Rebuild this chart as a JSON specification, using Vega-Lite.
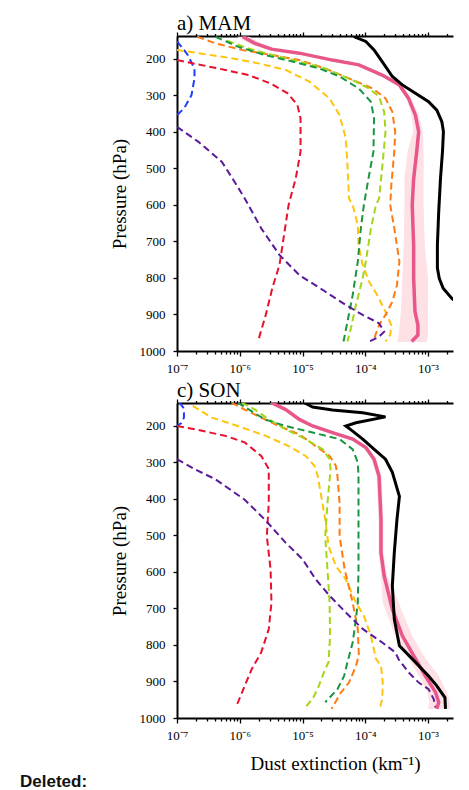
{
  "$schema": "https://vega.github.io/schema/vega-lite/v6.json",
  "background": "white",
  "padding": {"left": 20, "top": 13, "right": 5, "bottom": 0},
  "autosize": {"type": "pad"},
  "config": {
    "font": "Liberation Serif",
    "view": {"stroke": null},
    "axis": {
      "domainColor": "black", "domainWidth": 2, "tickColor": "black", "tickWidth": 1.3,
      "labelColor": "black", "labelFontSize": 13, "labelFont": "Liberation Serif", "grid": false,
      "labelFlush": false, "labelOverlap": false, "titleFont": "Liberation Serif", "titleFontSize": 19,
      "titleFontWeight": "normal", "titleColor": "black"
    },
    "title": {"font": "Liberation Serif", "fontSize": 21, "fontWeight": "normal", "color": "black"}
  },
  "title": {"text": "Deleted:", "orient": "bottom", "anchor": "start", "frame": "bounds", "font": "Liberation Sans", "fontWeight": "bold", "fontSize": 17, "color": "#111111", "dx": -90, "offset": 1},
  "spacing": 5,
  "datasets": {
    "lines": [
      {"s":"MAM","k":"obs","p":139,"v":6.6e-5},{"s":"MAM","k":"obs","p":152,"v":1.02e-4},{"s":"MAM","k":"obs","p":175,"v":1.38e-4},{"s":"MAM","k":"obs","p":207,"v":1.86e-4},{"s":"MAM","k":"obs","p":248,"v":2.7e-4},{"s":"MAM","k":"obs","p":271,"v":3.9e-4},{"s":"MAM","k":"obs","p":294,"v":6.3e-4},{"s":"MAM","k":"obs","p":317,"v":1.02e-3},{"s":"MAM","k":"obs","p":340,"v":1.38e-3},{"s":"MAM","k":"obs","p":372,"v":1.66e-3},{"s":"MAM","k":"obs","p":399,"v":1.76e-3},{"s":"MAM","k":"obs","p":454,"v":1.7e-3},{"s":"MAM","k":"obs","p":527,"v":1.58e-3},{"s":"MAM","k":"obs","p":618,"v":1.48e-3},{"s":"MAM","k":"obs","p":710,"v":1.41e-3},{"s":"MAM","k":"obs","p":773,"v":1.41e-3},{"s":"MAM","k":"obs","p":801,"v":1.51e-3},{"s":"MAM","k":"obs","p":828,"v":1.74e-3},{"s":"MAM","k":"obs","p":856,"v":2.4e-3},{"s":"MAM","k":"obs","p":880,"v":3.5e-3},
      {"s":"MAM","k":"model","p":139,"v":1.12e-6},{"s":"MAM","k":"model","p":157,"v":1.74e-6},{"s":"MAM","k":"model","p":173,"v":3.2e-6},{"s":"MAM","k":"model","p":184,"v":8.9e-6},{"s":"MAM","k":"model","p":203,"v":3.0e-5},{"s":"MAM","k":"model","p":216,"v":7.9e-5},{"s":"MAM","k":"model","p":244,"v":1.86e-4},{"s":"MAM","k":"model","p":271,"v":3.5e-4},{"s":"MAM","k":"model","p":308,"v":4.9e-4},{"s":"MAM","k":"model","p":354,"v":6.3e-4},{"s":"MAM","k":"model","p":399,"v":7.1e-4},{"s":"MAM","k":"model","p":454,"v":6.6e-4},{"s":"MAM","k":"model","p":528,"v":5.9e-4},{"s":"MAM","k":"model","p":600,"v":5.6e-4},{"s":"MAM","k":"model","p":710,"v":5.9e-4},{"s":"MAM","k":"model","p":801,"v":5.9e-4},{"s":"MAM","k":"model","p":892,"v":6.2e-4},{"s":"MAM","k":"model","p":929,"v":6.9e-4},{"s":"MAM","k":"model","p":956,"v":6.9e-4},{"s":"MAM","k":"model","p":974,"v":5.5e-4},
      {"s":"MAM","k":"blue","p":152,"v":1.0e-7},{"s":"MAM","k":"blue","p":170,"v":1.23e-7},{"s":"MAM","k":"blue","p":189,"v":1.48e-7},{"s":"MAM","k":"blue","p":226,"v":1.9e-7},{"s":"MAM","k":"blue","p":253,"v":1.9e-7},{"s":"MAM","k":"blue","p":299,"v":1.7e-7},{"s":"MAM","k":"blue","p":335,"v":1.3e-7},{"s":"MAM","k":"blue","p":354,"v":1.0e-7},
      {"s":"MAM","k":"red","p":203,"v":1.0e-7},{"s":"MAM","k":"red","p":215,"v":2.2e-7},{"s":"MAM","k":"red","p":230,"v":5.9e-7},{"s":"MAM","k":"red","p":244,"v":1.38e-6},{"s":"MAM","k":"red","p":267,"v":3.1e-6},{"s":"MAM","k":"red","p":294,"v":5.8e-6},{"s":"MAM","k":"red","p":326,"v":8.3e-6},{"s":"MAM","k":"red","p":363,"v":9.3e-6},{"s":"MAM","k":"red","p":454,"v":9.3e-6},{"s":"MAM","k":"red","p":527,"v":7.8e-6},{"s":"MAM","k":"red","p":600,"v":6.0e-6},{"s":"MAM","k":"red","p":710,"v":4.8e-6},{"s":"MAM","k":"red","p":764,"v":4.3e-6},{"s":"MAM","k":"red","p":828,"v":3.3e-6},{"s":"MAM","k":"red","p":901,"v":2.6e-6},{"s":"MAM","k":"red","p":974,"v":1.95e-6},
      {"s":"MAM","k":"yellow","p":175,"v":1.0e-7},{"s":"MAM","k":"yellow","p":184,"v":2.2e-7},{"s":"MAM","k":"yellow","p":198,"v":7.4e-7},{"s":"MAM","k":"yellow","p":212,"v":2.0e-6},{"s":"MAM","k":"yellow","p":230,"v":5.4e-6},{"s":"MAM","k":"yellow","p":262,"v":1.29e-5},{"s":"MAM","k":"yellow","p":308,"v":2.7e-5},{"s":"MAM","k":"yellow","p":354,"v":3.9e-5},{"s":"MAM","k":"yellow","p":418,"v":4.9e-5},{"s":"MAM","k":"yellow","p":491,"v":5.2e-5},{"s":"MAM","k":"yellow","p":582,"v":5.5e-5},{"s":"MAM","k":"yellow","p":600,"v":6.3e-5},{"s":"MAM","k":"yellow","p":655,"v":7.6e-5},{"s":"MAM","k":"yellow","p":710,"v":7.8e-5},{"s":"MAM","k":"yellow","p":764,"v":9.1e-5},{"s":"MAM","k":"yellow","p":810,"v":1.15e-4},{"s":"MAM","k":"yellow","p":847,"v":1.55e-4},{"s":"MAM","k":"yellow","p":892,"v":2.1e-4},{"s":"MAM","k":"yellow","p":929,"v":2.6e-4},{"s":"MAM","k":"yellow","p":956,"v":2.5e-4},{"s":"MAM","k":"yellow","p":974,"v":2.1e-4},
      {"s":"MAM","k":"orange","p":139,"v":2.1e-7},{"s":"MAM","k":"orange","p":157,"v":4.1e-7},{"s":"MAM","k":"orange","p":175,"v":1.07e-6},{"s":"MAM","k":"orange","p":189,"v":3.2e-6},{"s":"MAM","k":"orange","p":203,"v":8.9e-6},{"s":"MAM","k":"orange","p":226,"v":2.3e-5},{"s":"MAM","k":"orange","p":253,"v":5.5e-5},{"s":"MAM","k":"orange","p":281,"v":1.32e-4},{"s":"MAM","k":"orange","p":308,"v":2.1e-4},{"s":"MAM","k":"orange","p":345,"v":2.7e-4},{"s":"MAM","k":"orange","p":399,"v":3.0e-4},{"s":"MAM","k":"orange","p":454,"v":2.9e-4},{"s":"MAM","k":"orange","p":546,"v":2.6e-4},{"s":"MAM","k":"orange","p":600,"v":2.5e-4},{"s":"MAM","k":"orange","p":664,"v":2.9e-4},{"s":"MAM","k":"orange","p":755,"v":3.5e-4},{"s":"MAM","k":"orange","p":819,"v":3.2e-4},{"s":"MAM","k":"orange","p":865,"v":2.7e-4},{"s":"MAM","k":"orange","p":901,"v":2.1e-4},{"s":"MAM","k":"orange","p":929,"v":1.66e-4},{"s":"MAM","k":"orange","p":956,"v":1.45e-4},{"s":"MAM","k":"orange","p":974,"v":1.38e-4},
      {"s":"MAM","k":"lgreen","p":150,"v":6.3e-7},{"s":"MAM","k":"lgreen","p":172,"v":1.41e-6},{"s":"MAM","k":"lgreen","p":190,"v":3.5e-6},{"s":"MAM","k":"lgreen","p":207,"v":8.9e-6},{"s":"MAM","k":"lgreen","p":226,"v":2.3e-5},{"s":"MAM","k":"lgreen","p":258,"v":6.3e-5},{"s":"MAM","k":"lgreen","p":281,"v":1.15e-4},{"s":"MAM","k":"lgreen","p":303,"v":1.66e-4},{"s":"MAM","k":"lgreen","p":345,"v":2.0e-4},{"s":"MAM","k":"lgreen","p":399,"v":2.1e-4},{"s":"MAM","k":"lgreen","p":482,"v":1.9e-4},{"s":"MAM","k":"lgreen","p":582,"v":1.66e-4},{"s":"MAM","k":"lgreen","p":600,"v":1.48e-4},{"s":"MAM","k":"lgreen","p":664,"v":1.23e-4},{"s":"MAM","k":"lgreen","p":755,"v":1.02e-4},{"s":"MAM","k":"lgreen","p":801,"v":9.1e-5},{"s":"MAM","k":"lgreen","p":874,"v":7.1e-5},{"s":"MAM","k":"lgreen","p":938,"v":5.9e-5},{"s":"MAM","k":"lgreen","p":974,"v":5.2e-5},
      {"s":"MAM","k":"dgreen","p":139,"v":4.1e-7},{"s":"MAM","k":"dgreen","p":166,"v":9.3e-7},{"s":"MAM","k":"dgreen","p":189,"v":2.5e-6},{"s":"MAM","k":"dgreen","p":207,"v":6.9e-6},{"s":"MAM","k":"dgreen","p":226,"v":1.86e-5},{"s":"MAM","k":"dgreen","p":248,"v":3.9e-5},{"s":"MAM","k":"dgreen","p":281,"v":7.9e-5},{"s":"MAM","k":"dgreen","p":317,"v":1.23e-4},{"s":"MAM","k":"dgreen","p":363,"v":1.38e-4},{"s":"MAM","k":"dgreen","p":454,"v":1.35e-4},{"s":"MAM","k":"dgreen","p":518,"v":1.15e-4},{"s":"MAM","k":"dgreen","p":600,"v":9.5e-5},{"s":"MAM","k":"dgreen","p":664,"v":8.5e-5},{"s":"MAM","k":"dgreen","p":755,"v":7.6e-5},{"s":"MAM","k":"dgreen","p":847,"v":6.3e-5},{"s":"MAM","k":"dgreen","p":920,"v":5.2e-5},{"s":"MAM","k":"dgreen","p":974,"v":4.5e-5},
      {"s":"MAM","k":"purple","p":386,"v":1.0e-7},{"s":"MAM","k":"purple","p":427,"v":2.2e-7},{"s":"MAM","k":"purple","p":482,"v":5.2e-7},{"s":"MAM","k":"purple","p":537,"v":8.3e-7},{"s":"MAM","k":"purple","p":582,"v":1.2e-6},{"s":"MAM","k":"purple","p":664,"v":2.2e-6},{"s":"MAM","k":"purple","p":737,"v":4.3e-6},{"s":"MAM","k":"purple","p":792,"v":8.9e-6},{"s":"MAM","k":"purple","p":837,"v":2.3e-5},{"s":"MAM","k":"purple","p":874,"v":4.9e-5},{"s":"MAM","k":"purple","p":901,"v":9.1e-5},{"s":"MAM","k":"purple","p":924,"v":1.66e-4},{"s":"MAM","k":"purple","p":947,"v":2.0e-4},{"s":"MAM","k":"purple","p":961,"v":1.66e-4},{"s":"MAM","k":"purple","p":974,"v":1.15e-4},

      {"s":"SON","k":"obs","p":136,"v":1.07e-5},{"s":"SON","k":"obs","p":148,"v":1.45e-5},{"s":"SON","k":"obs","p":156,"v":3.0e-5},{"s":"SON","k":"obs","p":164,"v":9.1e-5},{"s":"SON","k":"obs","p":175,"v":2.1e-4},{"s":"SON","k":"obs","p":191,"v":7.1e-5},{"s":"SON","k":"obs","p":200,"v":4.9e-5},{"s":"SON","k":"obs","p":214,"v":6.3e-5},{"s":"SON","k":"obs","p":236,"v":9.1e-5},{"s":"SON","k":"obs","p":268,"v":1.48e-4},{"s":"SON","k":"obs","p":291,"v":2.1e-4},{"s":"SON","k":"obs","p":327,"v":2.7e-4},{"s":"SON","k":"obs","p":393,"v":3.5e-4},{"s":"SON","k":"obs","p":456,"v":3.2e-4},{"s":"SON","k":"obs","p":547,"v":2.9e-4},{"s":"SON","k":"obs","p":638,"v":2.7e-4},{"s":"SON","k":"obs","p":729,"v":2.9e-4},{"s":"SON","k":"obs","p":802,"v":3.5e-4},{"s":"SON","k":"obs","p":838,"v":5.6e-4},{"s":"SON","k":"obs","p":885,"v":1.02e-3},{"s":"SON","k":"obs","p":912,"v":1.38e-3},{"s":"SON","k":"obs","p":944,"v":1.86e-3},{"s":"SON","k":"obs","p":975,"v":1.9e-3},
      {"s":"SON","k":"model","p":136,"v":3.2e-6},{"s":"SON","k":"model","p":155,"v":5.4e-6},{"s":"SON","k":"model","p":182,"v":8.9e-6},{"s":"SON","k":"model","p":200,"v":1.45e-5},{"s":"SON","k":"model","p":218,"v":3.0e-5},{"s":"SON","k":"model","p":236,"v":6.3e-5},{"s":"SON","k":"model","p":259,"v":1.02e-4},{"s":"SON","k":"model","p":291,"v":1.38e-4},{"s":"SON","k":"model","p":338,"v":1.66e-4},{"s":"SON","k":"model","p":456,"v":1.78e-4},{"s":"SON","k":"model","p":547,"v":1.78e-4},{"s":"SON","k":"model","p":611,"v":2.0e-4},{"s":"SON","k":"model","p":702,"v":2.7e-4},{"s":"SON","k":"model","p":775,"v":3.9e-4},{"s":"SON","k":"model","p":829,"v":5.9e-4},{"s":"SON","k":"model","p":885,"v":9.1e-4},{"s":"SON","k":"model","p":930,"v":1.32e-3},{"s":"SON","k":"model","p":957,"v":1.48e-3},{"s":"SON","k":"model","p":975,"v":1.38e-3},
      {"s":"SON","k":"blue","p":136,"v":1.1e-7},{"s":"SON","k":"blue","p":150,"v":1.26e-7},{"s":"SON","k":"blue","p":164,"v":1.29e-7},{"s":"SON","k":"blue","p":177,"v":1.29e-7},{"s":"SON","k":"blue","p":192,"v":1.17e-7},{"s":"SON","k":"blue","p":200,"v":1.0e-7},
      {"s":"SON","k":"red","p":200,"v":1.0e-7},{"s":"SON","k":"red","p":211,"v":2.2e-7},{"s":"SON","k":"red","p":227,"v":5.9e-7},{"s":"SON","k":"red","p":245,"v":1.2e-6},{"s":"SON","k":"red","p":282,"v":2.2e-6},{"s":"SON","k":"red","p":318,"v":2.9e-6},{"s":"SON","k":"red","p":411,"v":2.9e-6},{"s":"SON","k":"red","p":502,"v":2.7e-6},{"s":"SON","k":"red","p":593,"v":3.1e-6},{"s":"SON","k":"red","p":684,"v":3.2e-6},{"s":"SON","k":"red","p":756,"v":2.9e-6},{"s":"SON","k":"red","p":820,"v":2.2e-6},{"s":"SON","k":"red","p":866,"v":1.55e-6},{"s":"SON","k":"red","p":912,"v":1.2e-6},{"s":"SON","k":"red","p":966,"v":8.9e-7},
      {"s":"SON","k":"yellow","p":145,"v":1.78e-7},{"s":"SON","k":"yellow","p":177,"v":3.6e-7},{"s":"SON","k":"yellow","p":200,"v":9.3e-7},{"s":"SON","k":"yellow","p":227,"v":2.6e-6},{"s":"SON","k":"yellow","p":255,"v":6.0e-6},{"s":"SON","k":"yellow","p":282,"v":1.12e-5},{"s":"SON","k":"yellow","p":309,"v":1.55e-5},{"s":"SON","k":"yellow","p":336,"v":1.74e-5},{"s":"SON","k":"yellow","p":384,"v":1.95e-5},{"s":"SON","k":"yellow","p":456,"v":2.3e-5},{"s":"SON","k":"yellow","p":529,"v":2.6e-5},{"s":"SON","k":"yellow","p":584,"v":3.4e-5},{"s":"SON","k":"yellow","p":620,"v":4.9e-5},{"s":"SON","k":"yellow","p":684,"v":7.1e-5},{"s":"SON","k":"yellow","p":720,"v":9.5e-5},{"s":"SON","k":"yellow","p":775,"v":1.23e-4},{"s":"SON","k":"yellow","p":838,"v":1.48e-4},{"s":"SON","k":"yellow","p":857,"v":1.78e-4},{"s":"SON","k":"yellow","p":903,"v":1.9e-4},{"s":"SON","k":"yellow","p":948,"v":1.86e-4},{"s":"SON","k":"yellow","p":975,"v":1.7e-4},
      {"s":"SON","k":"orange","p":136,"v":7.4e-7},{"s":"SON","k":"orange","p":155,"v":1.2e-6},{"s":"SON","k":"orange","p":177,"v":2.2e-6},{"s":"SON","k":"orange","p":200,"v":4.2e-6},{"s":"SON","k":"orange","p":223,"v":8.9e-6},{"s":"SON","k":"orange","p":255,"v":1.62e-5},{"s":"SON","k":"orange","p":282,"v":2.7e-5},{"s":"SON","k":"orange","p":309,"v":3.4e-5},{"s":"SON","k":"orange","p":336,"v":3.6e-5},{"s":"SON","k":"orange","p":411,"v":3.9e-5},{"s":"SON","k":"orange","p":502,"v":3.9e-5},{"s":"SON","k":"orange","p":593,"v":4.7e-5},{"s":"SON","k":"orange","p":684,"v":6.3e-5},{"s":"SON","k":"orange","p":756,"v":7.6e-5},{"s":"SON","k":"orange","p":829,"v":7.9e-5},{"s":"SON","k":"orange","p":857,"v":7.1e-5},{"s":"SON","k":"orange","p":903,"v":5.5e-5},{"s":"SON","k":"orange","p":930,"v":4.1e-5},{"s":"SON","k":"orange","p":975,"v":2.9e-5},
      {"s":"SON","k":"lgreen","p":136,"v":1.07e-6},{"s":"SON","k":"lgreen","p":155,"v":1.74e-6},{"s":"SON","k":"lgreen","p":182,"v":2.9e-6},{"s":"SON","k":"lgreen","p":209,"v":5.4e-6},{"s":"SON","k":"lgreen","p":236,"v":1.12e-5},{"s":"SON","k":"lgreen","p":264,"v":2.1e-5},{"s":"SON","k":"lgreen","p":291,"v":2.7e-5},{"s":"SON","k":"lgreen","p":318,"v":2.8e-5},{"s":"SON","k":"lgreen","p":411,"v":2.5e-5},{"s":"SON","k":"lgreen","p":502,"v":2.3e-5},{"s":"SON","k":"lgreen","p":593,"v":2.5e-5},{"s":"SON","k":"lgreen","p":684,"v":2.7e-5},{"s":"SON","k":"lgreen","p":775,"v":2.75e-5},{"s":"SON","k":"lgreen","p":847,"v":2.6e-5},{"s":"SON","k":"lgreen","p":866,"v":2.3e-5},{"s":"SON","k":"lgreen","p":912,"v":1.82e-5},{"s":"SON","k":"lgreen","p":948,"v":1.45e-5},{"s":"SON","k":"lgreen","p":971,"v":1.1e-5},
      {"s":"SON","k":"dgreen","p":136,"v":9.3e-7},{"s":"SON","k":"dgreen","p":182,"v":2.5e-6},{"s":"SON","k":"dgreen","p":200,"v":5.4e-6},{"s":"SON","k":"dgreen","p":218,"v":1.45e-5},{"s":"SON","k":"dgreen","p":236,"v":3.9e-5},{"s":"SON","k":"dgreen","p":264,"v":6.3e-5},{"s":"SON","k":"dgreen","p":300,"v":7.6e-5},{"s":"SON","k":"dgreen","p":336,"v":7.8e-5},{"s":"SON","k":"dgreen","p":411,"v":7.8e-5},{"s":"SON","k":"dgreen","p":502,"v":7.8e-5},{"s":"SON","k":"dgreen","p":593,"v":7.8e-5},{"s":"SON","k":"dgreen","p":684,"v":7.6e-5},{"s":"SON","k":"dgreen","p":729,"v":7.1e-5},{"s":"SON","k":"dgreen","p":793,"v":6.3e-5},{"s":"SON","k":"dgreen","p":847,"v":5.2e-5},{"s":"SON","k":"dgreen","p":885,"v":4.6e-5},{"s":"SON","k":"dgreen","p":921,"v":3.6e-5},{"s":"SON","k":"dgreen","p":957,"v":2.3e-5},
      {"s":"SON","k":"purple","p":291,"v":1.0e-7},{"s":"SON","k":"purple","p":320,"v":2.0e-7},{"s":"SON","k":"purple","p":345,"v":4.0e-7},{"s":"SON","k":"purple","p":365,"v":5.9e-7},{"s":"SON","k":"purple","p":402,"v":1.2e-6},{"s":"SON","k":"purple","p":456,"v":2.5e-6},{"s":"SON","k":"purple","p":520,"v":5.4e-6},{"s":"SON","k":"purple","p":565,"v":1.0e-5},{"s":"SON","k":"purple","p":620,"v":1.62e-5},{"s":"SON","k":"purple","p":665,"v":2.7e-5},{"s":"SON","k":"purple","p":711,"v":4.9e-5},{"s":"SON","k":"purple","p":756,"v":9.1e-5},{"s":"SON","k":"purple","p":793,"v":1.86e-4},{"s":"SON","k":"purple","p":820,"v":3.0e-4},{"s":"SON","k":"purple","p":839,"v":3.4e-4},{"s":"SON","k":"purple","p":875,"v":4.9e-4},{"s":"SON","k":"purple","p":903,"v":7.1e-4},{"s":"SON","k":"purple","p":921,"v":1.02e-3},{"s":"SON","k":"purple","p":948,"v":1.23e-3},{"s":"SON","k":"purple","p":971,"v":1.32e-3}
    ],
    "band": [
      {"s":"MAM","p":139,"lo":8.9e-7,"hi":1.41e-6},{"s":"MAM","p":157,"lo":1.38e-6,"hi":2.2e-6},{"s":"MAM","p":173,"lo":2.6e-6,"hi":3.9e-6},{"s":"MAM","p":184,"lo":7.4e-6,"hi":1.07e-5},{"s":"MAM","p":203,"lo":2.6e-5,"hi":3.5e-5},{"s":"MAM","p":216,"lo":7.1e-5,"hi":8.9e-5},{"s":"MAM","p":244,"lo":1.7e-4,"hi":2.04e-4},{"s":"MAM","p":271,"lo":3.2e-4,"hi":3.8e-4},{"s":"MAM","p":308,"lo":4.5e-4,"hi":5.4e-4},{"s":"MAM","p":354,"lo":5.5e-4,"hi":7.2e-4},{"s":"MAM","p":399,"lo":5.8e-4,"hi":8.3e-4},{"s":"MAM","p":454,"lo":4.7e-4,"hi":8.5e-4},{"s":"MAM","p":528,"lo":4.2e-4,"hi":8.5e-4},{"s":"MAM","p":600,"lo":4.2e-4,"hi":8.5e-4},{"s":"MAM","p":710,"lo":4.1e-4,"hi":8.9e-4},{"s":"MAM","p":801,"lo":3.9e-4,"hi":1.0e-3},{"s":"MAM","p":892,"lo":3.7e-4,"hi":1.0e-3},{"s":"MAM","p":956,"lo":3.4e-4,"hi":1.0e-3},{"s":"MAM","p":975,"lo":3.2e-4,"hi":9.5e-4},
      {"s":"SON","p":136,"lo":2.9e-6,"hi":3.5e-6},{"s":"SON","p":155,"lo":5.0e-6,"hi":5.9e-6},{"s":"SON","p":182,"lo":8.1e-6,"hi":9.8e-6},{"s":"SON","p":200,"lo":1.32e-5,"hi":1.6e-5},{"s":"SON","p":218,"lo":2.75e-5,"hi":3.3e-5},{"s":"SON","p":236,"lo":5.8e-5,"hi":6.9e-5},{"s":"SON","p":259,"lo":9.3e-5,"hi":1.12e-4},{"s":"SON","p":291,"lo":1.26e-4,"hi":1.51e-4},{"s":"SON","p":338,"lo":1.51e-4,"hi":1.82e-4},{"s":"SON","p":456,"lo":1.62e-4,"hi":1.95e-4},{"s":"SON","p":547,"lo":1.62e-4,"hi":1.95e-4},{"s":"SON","p":611,"lo":1.78e-4,"hi":2.24e-4},{"s":"SON","p":684,"lo":1.9e-4,"hi":3.4e-4},{"s":"SON","p":775,"lo":3.0e-4,"hi":5.6e-4},{"s":"SON","p":829,"lo":4.6e-4,"hi":8.5e-4},{"s":"SON","p":885,"lo":7.2e-4,"hi":1.48e-3},{"s":"SON","p":930,"lo":9.8e-4,"hi":2.0e-3},{"s":"SON","p":957,"lo":1.05e-3,"hi":2.24e-3},{"s":"SON","p":975,"lo":1.0e-3,"hi":2.24e-3}
    ]
  },
  "vconcat": [
    {
      "width": 276, "height": 315,
      "title": {"text": "a) MAM", "anchor": "start", "frame": "group", "offset": -3, "font": "Liberation Serif", "fontSize": 21, "fontWeight": "normal"},
      "encoding": {
        "y": {"field": "p", "type": "quantitative", "scale": {"domain": [137, 1000], "reverse": true, "nice": false, "zero": false},
          "axis": {"values": [200,300,400,500,600,700,800,900,1000], "format": "d", "title": "Pressure (hPa)", "tickSize": 4, "labelPadding": 8, "titlePadding": 10,
            "labelFont": "Liberation Serif", "labelFontSize": 13, "labelColor": "black", "titleFont": "Liberation Serif", "titleFontSize": 19, "titleFontWeight": "normal", "titleColor": "black",
            "domainColor": "black", "domainWidth": 2, "tickColor": "black", "tickWidth": 1.3, "grid": false, "labelFlush": false}}
      },
      "resolve": {"axis": {"x": "independent"}},
      "layer": [
        {"data": {"name": "band"}, "transform": [{"filter": "datum.s == 'MAM'"}],
          "mark": {"type": "area", "orient": "horizontal", "clip": true, "fill": "#fde1e5", "stroke": null},
          "encoding": {
            "x": {"field": "lo", "type": "quantitative", "scale": {"type": "log", "domain": [1e-7, 0.0025], "nice": false},
              "axis": {"orient": "top", "labels": false, "title": null, "domainColor": "black", "domainWidth": 2, "tickColor": "black", "tickWidth": 1.3, "grid": false,
                "values": [1e-7,2e-7,3e-7,4e-7,5e-7,6e-7,7e-7,8e-7,9e-7,1e-6,2e-6,3e-6,4e-6,5e-6,6e-6,7e-6,8e-6,9e-6,1e-5,2e-5,3e-5,4e-5,5e-5,6e-5,7e-5,8e-5,9e-5,0.0001,0.0002,0.0003,0.0004,0.0005,0.0006,0.0007,0.0008,0.0009,0.001,0.002],
                "tickSize": {"condition": {"test": "abs(log(datum.value)/LN10 - round(log(datum.value)/LN10)) < 0.01", "value": 4}, "value": 2.5}}},
            "x2": {"field": "hi"}
          }},
        {"data": {"name": "lines"}, "transform": [{"filter": "datum.s == 'MAM' && datum.k != 'obs' && datum.k != 'model'"}],
          "mark": {"type": "line", "clip": true, "strokeDash": [7, 4], "strokeWidth": 2},
          "encoding": {
            "x": {"field": "v", "type": "quantitative", "scale": {"type": "log", "domain": [1e-7, 0.0025], "nice": false},
              "axis": {"orient": "bottom", "title": null, "domainColor": "black", "domainWidth": 2, "tickColor": "black", "tickWidth": 1.3, "grid": false,
                "labelFont": "Liberation Serif", "labelFontSize": 13, "labelColor": "black", "labelFlush": false, "labelOverlap": false,
                "values": [1e-7,2e-7,3e-7,4e-7,5e-7,6e-7,7e-7,8e-7,9e-7,1e-6,2e-6,3e-6,4e-6,5e-6,6e-6,7e-6,8e-6,9e-6,1e-5,2e-5,3e-5,4e-5,5e-5,6e-5,7e-5,8e-5,9e-5,0.0001,0.0002,0.0003,0.0004,0.0005,0.0006,0.0007,0.0008,0.0009,0.001,0.002],
                "labelExpr": "abs(log(datum.value)/LN10 - round(log(datum.value)/LN10)) < 0.01 ? '10' + ['⁻⁷','⁻⁶','⁻⁵','⁻⁴','⁻³'][round(log(datum.value)/LN10) + 7] : ''",
                "labelPadding": 6,
                "tickSize": {"condition": {"test": "abs(log(datum.value)/LN10 - round(log(datum.value)/LN10)) < 0.01", "value": 5}, "value": 3}}},
            "color": {"field": "k", "type": "nominal", "legend": null,
              "scale": {"domain": ["blue","red","yellow","orange","lgreen","dgreen","purple"], "range": ["#1f3cff","#e8112d","#ffc40c","#ff7a12","#a3d61a","#1a9641","#5a1a9c"]}},
            "order": {"field": "p", "type": "quantitative"}
          }},
        {"data": {"name": "lines"}, "transform": [{"filter": "datum.s == 'MAM' && datum.k == 'model'"}],
          "mark": {"type": "line", "clip": true, "color": "#e8578a", "strokeWidth": 3.5},
          "encoding": {
            "x": {"field": "v", "type": "quantitative", "scale": {"type": "log", "domain": [1e-7, 0.0025], "nice": false}, "axis": null},
            "order": {"field": "p", "type": "quantitative"}
          }},
        {"data": {"name": "lines"}, "transform": [{"filter": "datum.s == 'MAM' && datum.k == 'obs'"}],
          "mark": {"type": "line", "clip": true, "color": "black", "strokeWidth": 3},
          "encoding": {
            "x": {"field": "v", "type": "quantitative", "scale": {"type": "log", "domain": [1e-7, 0.0025], "nice": false}, "axis": null},
            "order": {"field": "p", "type": "quantitative"}
          }}
      ]
    },
    {
      "width": 276, "height": 315,
      "title": {"text": "c) SON", "anchor": "start", "frame": "group", "offset": -3, "font": "Liberation Serif", "fontSize": 21, "fontWeight": "normal"},
      "encoding": {
        "y": {"field": "p", "type": "quantitative", "scale": {"domain": [137, 1000], "reverse": true, "nice": false, "zero": false},
          "axis": {"values": [200,300,400,500,600,700,800,900,1000], "format": "d", "title": "Pressure (hPa)", "tickSize": 4, "labelPadding": 8, "titlePadding": 10,
            "labelFont": "Liberation Serif", "labelFontSize": 13, "labelColor": "black", "titleFont": "Liberation Serif", "titleFontSize": 19, "titleFontWeight": "normal", "titleColor": "black",
            "domainColor": "black", "domainWidth": 2, "tickColor": "black", "tickWidth": 1.3, "grid": false, "labelFlush": false}}
      },
      "resolve": {"axis": {"x": "independent"}},
      "layer": [
        {"data": {"name": "band"}, "transform": [{"filter": "datum.s == 'SON'"}],
          "mark": {"type": "area", "orient": "horizontal", "clip": true, "fill": "#fde1e5", "stroke": null},
          "encoding": {
            "x": {"field": "lo", "type": "quantitative", "scale": {"type": "log", "domain": [1e-7, 0.0025], "nice": false},
              "axis": {"orient": "top", "labels": false, "title": null, "domainColor": "black", "domainWidth": 2, "tickColor": "black", "tickWidth": 1.3, "grid": false,
                "values": [1e-7,2e-7,3e-7,4e-7,5e-7,6e-7,7e-7,8e-7,9e-7,1e-6,2e-6,3e-6,4e-6,5e-6,6e-6,7e-6,8e-6,9e-6,1e-5,2e-5,3e-5,4e-5,5e-5,6e-5,7e-5,8e-5,9e-5,0.0001,0.0002,0.0003,0.0004,0.0005,0.0006,0.0007,0.0008,0.0009,0.001,0.002],
                "tickSize": {"condition": {"test": "abs(log(datum.value)/LN10 - round(log(datum.value)/LN10)) < 0.01", "value": 4}, "value": 2.5}}},
            "x2": {"field": "hi"}
          }},
        {"data": {"name": "lines"}, "transform": [{"filter": "datum.s == 'SON' && datum.k != 'obs' && datum.k != 'model'"}],
          "mark": {"type": "line", "clip": true, "strokeDash": [7, 4], "strokeWidth": 2},
          "encoding": {
            "x": {"field": "v", "type": "quantitative", "scale": {"type": "log", "domain": [1e-7, 0.0025], "nice": false},
              "axis": {"orient": "bottom", "title": "Dust extinction (km⁻¹)", "titlePadding": 12, "titleX": 158, "domainColor": "black", "domainWidth": 2, "tickColor": "black", "tickWidth": 1.3, "grid": false,
                "labelFont": "Liberation Serif", "labelFontSize": 13, "labelColor": "black", "labelFlush": false, "labelOverlap": false,
                "titleFont": "Liberation Serif", "titleFontSize": 19, "titleFontWeight": "normal", "titleColor": "black",
                "values": [1e-7,2e-7,3e-7,4e-7,5e-7,6e-7,7e-7,8e-7,9e-7,1e-6,2e-6,3e-6,4e-6,5e-6,6e-6,7e-6,8e-6,9e-6,1e-5,2e-5,3e-5,4e-5,5e-5,6e-5,7e-5,8e-5,9e-5,0.0001,0.0002,0.0003,0.0004,0.0005,0.0006,0.0007,0.0008,0.0009,0.001,0.002],
                "labelExpr": "abs(log(datum.value)/LN10 - round(log(datum.value)/LN10)) < 0.01 ? '10' + ['⁻⁷','⁻⁶','⁻⁵','⁻⁴','⁻³'][round(log(datum.value)/LN10) + 7] : ''",
                "labelPadding": 6,
                "tickSize": {"condition": {"test": "abs(log(datum.value)/LN10 - round(log(datum.value)/LN10)) < 0.01", "value": 5}, "value": 3}}},
            "color": {"field": "k", "type": "nominal", "legend": null,
              "scale": {"domain": ["blue","red","yellow","orange","lgreen","dgreen","purple"], "range": ["#1f3cff","#e8112d","#ffc40c","#ff7a12","#a3d61a","#1a9641","#5a1a9c"]}},
            "order": {"field": "p", "type": "quantitative"}
          }},
        {"data": {"name": "lines"}, "transform": [{"filter": "datum.s == 'SON' && datum.k == 'model'"}],
          "mark": {"type": "line", "clip": true, "color": "#e8578a", "strokeWidth": 3.5},
          "encoding": {
            "x": {"field": "v", "type": "quantitative", "scale": {"type": "log", "domain": [1e-7, 0.0025], "nice": false}, "axis": null},
            "order": {"field": "p", "type": "quantitative"}
          }},
        {"data": {"name": "lines"}, "transform": [{"filter": "datum.s == 'SON' && datum.k == 'obs'"}],
          "mark": {"type": "line", "clip": true, "color": "black", "strokeWidth": 3},
          "encoding": {
            "x": {"field": "v", "type": "quantitative", "scale": {"type": "log", "domain": [1e-7, 0.0025], "nice": false}, "axis": null},
            "order": {"field": "p", "type": "quantitative"}
          }}
      ]
    }
  ]
}
